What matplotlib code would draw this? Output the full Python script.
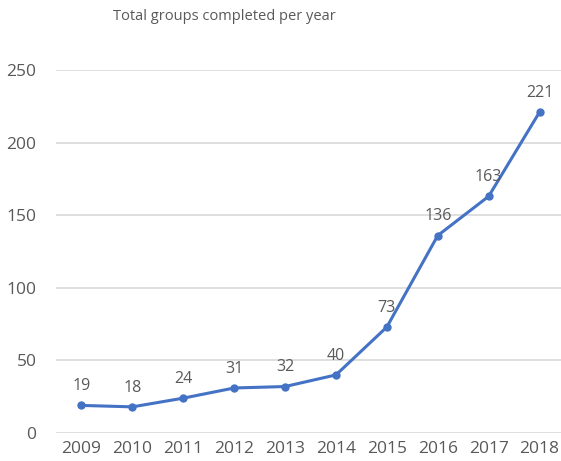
import matplotlib
matplotlib.use("Agg")
import matplotlib.pyplot as plt

years = ["2009", "2010", "2011", "2012", "2013", "2014", "2015", "2016", "2017", "2018"]
groups_completed = [19, 18, 24, 31, 32, 40, 73, 136, 163, 221]
y_ticks = [0, 50, 100, 150, 200, 250]

plt.rcParams['font.family'] = ['Open Sans', 'DejaVu Sans']
text_color = "#595959"
line_color = "#4472C4"

fig = plt.figure(figsize=(5.61, 4.61), dpi=100)
ax = fig.add_axes([56 / 561, (461 - 433) / 461, 509 / 561, (433 - 70) / 461])

x = list(range(len(years)))
ax.plot(x, groups_completed, color=line_color, lw=2.2, marker="o", ms=5, zorder=3)

for xi, v in zip(x, groups_completed):
    ax.annotate(str(v), (xi, v), xytext=(0, 8), textcoords="offset points",
                ha="center", va="bottom", fontsize=11.5, color=text_color)

ax.set_xlim(-0.5, 9.5)
ax.set_ylim(0, 250)
ax.set_yticks(y_ticks)
ax.set_xticks(x)
ax.set_xticklabels(years)
ax.tick_params(axis="both", length=0, labelsize=12.5, labelcolor=text_color)
ax.tick_params(axis="y", pad=14)
ax.tick_params(axis="x", pad=6)
ax.grid(axis="y", color="#d9d9d9", lw=1.2)
ax.set_axisbelow(True)
for s in ax.spines.values():
    s.set_visible(False)

fig.text(113 / 561, 1 - 17 / 461, "Total groups completed per year",
         ha="left", va="center", fontsize=10.5, color=text_color)

fig.savefig("out.png", dpi=100)
